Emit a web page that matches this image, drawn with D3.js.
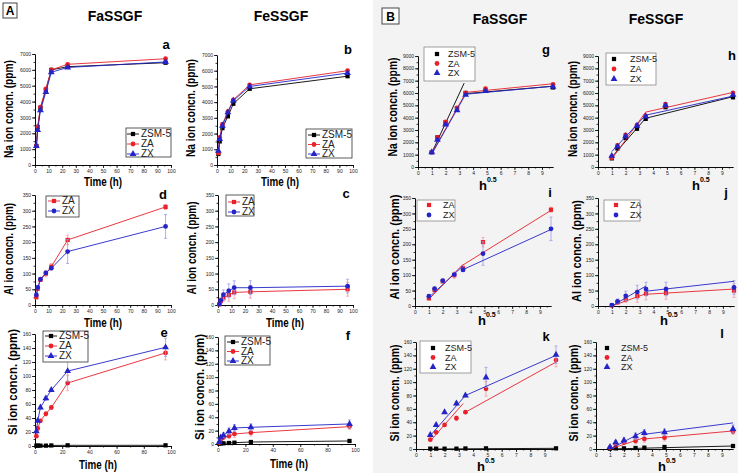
<!DOCTYPE html>
<html lang="en">
<head>
<meta charset="utf-8">
<script src="https://cdn.jsdelivr.net/npm/d3@7"></script>
<style>
  body { margin: 0; background: #fff; }
  text { font-family: "Liberation Sans", Arial, sans-serif; }
  .tick text { font-size: 5px; fill: #222; }
  .axis path, .axis line { stroke: #000; stroke-width: 0.8; }
</style>
</head>
<body>
<script>
// sampling times (h) and their square roots for the B panels
const hours = [1, 2, 4, 8, 12, 24, 96];
const rootHours = [1, 1.41, 2, 2.83, 3.46, 4.9, 9.8];

// Na release (ppm)
const naFaZSM5 = [1200, 2400, 3600, 4750, 6000, 6200, 6450];
const naFaZA   = [1200, 2400, 3650, 4800, 6000, 6350, 6700];
const naFaZX   = [1200, 2200, 3450, 4600, 5850, 6150, 6500];
const naFeZSM5 = [700, 1500, 2350, 3100, 3900, 4850, 5650];
const naFeZA   = [750, 1750, 2600, 3400, 4150, 5100, 6000];
const naFeZX   = [900, 1650, 2500, 3350, 4100, 5000, 5850];

// Al release (ppm) with error bars
const alFaZA    = [25, 52, 80, 100, 122, 207, 312];
const alFaZX    = [32, 56, 82, 102, 117, 170, 250];
const alFaZAErr = [6, 5, 5, 10, 10, 15, 8];
const alFaZXErr = [5, 5, 5, 5, 5, 38, 38];
const alFeZA    = [2, 12, 22, 32, 40, 42, 50];
const alFeZX    = [3, 15, 33, 45, 55, 55, 60];
const alFeZAErr = [3, 6, 10, 20, 20, 20, 22];
const alFeZXErr = [3, 8, 15, 22, 22, 22, 22];

// Si release (ppm) with error bars
const siFaZSM5  = [0.5, 0.5, 0.5, 0.5, 0.8, 1, 1];
const siFaZA    = [14, 25, 36, 46, 55, 90, 133];
const siFaZX    = [21, 36, 55, 68, 80, 107, 141];
const siFaZAErr = [1, 2, 2, 3, 2, 11, 10];
const siFaZXErr = [2, 2, 2, 3, 2, 15, 13];
const siFeZSM5  = [0.5, 1, 1, 1.5, 2, 3, 4.5];
const siFeZA    = [2, 7, 10, 12, 15, 17, 26];
const siFeZX    = [3, 10, 13, 19, 24, 25, 30];
const siFeZAErr = [1, 2, 3, 4, 5, 5, 4];
const siFeZXErr = [1, 3, 4, 5, 5, 5, 6];

// two-stage linear fits vs h^0.5 : [x1, y1, x2, y2]
const naFaFitZSM5 = [[1, 1150, 3.35, 6800], [3.46, 5950, 9.8, 6550]];
const naFaFitZA   = [[1, 1100, 3.46, 6000], [3.46, 6050, 9.8, 6750]];
const naFaFitZX   = [[1, 1050, 3.46, 5900], [3.46, 5900, 9.8, 6550]];
const naFeFitZSM5 = [[1, 800, 3.46, 3950], [3.46, 3950, 9.8, 5700]];
const naFeFitZA   = [[1, 650, 3.46, 4450], [3.46, 4450, 9.8, 6050]];
const naFeFitZX   = [[1, 1250, 3.46, 4200], [3.46, 4200, 9.8, 5750]];
const alFaFitZA   = [[1, 22, 3.46, 135], [3.46, 133, 9.8, 310]];
const alFaFitZX   = [[1, 28, 3.46, 130], [3.46, 118, 9.8, 248]];
const alFeFitZA   = [[1, 0, 3.46, 40], [3.46, 38, 9.8, 55]];
const alFeFitZX   = [[1, 0, 3.46, 65], [3.46, 48, 9.8, 80]];
const siFaFitZSM5 = [[1, 0, 9.8, 1]];
const siFaFitZA   = [[1, 12, 3.3, 68], [3.46, 55, 9.8, 130]];
const siFaFitZX   = [[1, 20, 3.46, 80], [3.46, 80, 9.8, 140]];
const siFeFitZSM5 = [[1, 0, 9.8, 4.5]];
const siFeFitZA   = [[1, 0, 3.46, 17], [3.46, 15, 9.8, 27]];
const siFeFitZX   = [[1, 0, 3.46, 27], [3.46, 22, 9.8, 39]];

const RED = "#e8212b", BLUE = "#2424c8", BLACK = "#000";
const RED_ERR = "#f19aa0", BLUE_ERR = "#9c9ce6";

const svg = d3.select("body").append("svg")
  .attr("width", 738).attr("height", 473);

// light background of the B half
svg.append("rect").attr("x", 373).attr("y", 0).attr("width", 365).attr("height", 473)
  .attr("fill", "#f3f3f3");

// headers
function boxLabel(txt, x, y, w, h) {
  svg.append("rect").attr("x", x).attr("y", y).attr("width", w).attr("height", h)
    .attr("fill", "#fff").attr("stroke", "#444").attr("stroke-width", 1);
  svg.append("text").attr("x", x + w / 2).attr("y", y + h - 3.5)
    .attr("text-anchor", "middle").attr("font-size", 12).attr("font-weight", "bold").text(txt);
}
boxLabel("A", 3, 3, 14, 15);
boxLabel("B", 382, 8, 17, 16);
[["FaSSGF", 115, 21], ["FeSSGF", 281, 21], ["FaSSGF", 500, 24], ["FeSSGF", 656, 24]].forEach(t => {
  svg.append("text").attr("x", t[1]).attr("y", t[2]).attr("text-anchor", "middle")
    .attr("font-size", 14).attr("font-weight", "bold").text(t[0]);
});

const shapes = {
  square: d3.symbol().type(d3.symbolSquare).size(18),
  circle: d3.symbol().type(d3.symbolCircle).size(18),
  triangle: d3.symbol().type(d3.symbolTriangle).size(20)
};

function panel(p) {
  const xs = p.root ? rootHours : hours;
  const x = d3.scaleLinear().domain([0, p.xMax]).range(p.xr);
  const y = d3.scaleLinear().domain([0, p.yMax]).range(p.yr);
  const g = svg.append("g");

  // minor ticks
  g.append("g").attr("class", "axis").attr("transform", `translate(0,${p.yr[0]})`)
    .call(d3.axisBottom(x).tickValues(d3.range(0, p.xMax + 1e-9, p.xMinor)).tickSize(1.5).tickFormat("").tickSizeOuter(0));
  g.append("g").attr("class", "axis").attr("transform", `translate(${p.xr[0]},0)`)
    .call(d3.axisLeft(y).tickValues(d3.range(0, p.yMax + 1e-9, p.yStep / 2)).tickSize(1.5).tickFormat("").tickSizeOuter(0));
  // major ticks
  g.append("g").attr("class", "axis").attr("transform", `translate(0,${p.yr[0]})`)
    .call(d3.axisBottom(x).tickValues(d3.range(0, p.xTickMax + 1e-9, p.xStep)).tickSize(3).tickPadding(1).tickFormat(d3.format("d")).tickSizeOuter(0));
  g.append("g").attr("class", "axis").attr("transform", `translate(${p.xr[0]},0)`)
    .call(d3.axisLeft(y).tickValues(d3.range(0, p.yMax + 1e-9, p.yStep)).tickSize(3).tickPadding(1).tickFormat(d3.format("d")).tickSizeOuter(0));

  // axis titles
  g.append("text").attr("transform", `translate(${p.yl[0]},${p.yl[1]}) rotate(-90)`)
    .attr("text-anchor", "middle").attr("font-size", 12.5).attr("font-weight", "bold")
    .attr("textLength", p.yl[2]).attr("lengthAdjust", "spacingAndGlyphs").text(p.ylab);
  if (p.root) {
    const t = g.append("text").attr("x", p.xl[0]).attr("y", p.xl[1])
      .attr("font-size", 13).attr("font-weight", "bold");
    t.append("tspan").text("h");
    t.append("tspan").attr("font-size", 7).attr("dy", -8).text("0.5");
  } else {
    g.append("text").attr("x", p.xl[0]).attr("y", p.xl[1]).attr("text-anchor", "middle")
      .attr("font-size", 12.5).attr("font-weight", "bold")
      .attr("textLength", 38).attr("lengthAdjust", "spacingAndGlyphs").text("Time (h)");
  }
  g.append("text").attr("x", p.letter[0]).attr("y", p.letter[1]).attr("text-anchor", "middle")
    .attr("font-size", 13).attr("font-weight", "bold").text(p.letter[2]);

  p.series.forEach(s => {
    const pts = xs.map((v, i) => ({ x: v, y: s.vals[i], e: s.err ? s.err[i] : 0 }));
    if (s.err) {
      const eg = g.append("g").attr("stroke", s.errColor).attr("stroke-width", 0.8);
      pts.forEach(d => {
        eg.append("line").attr("x1", x(d.x)).attr("x2", x(d.x))
          .attr("y1", y(d.y - d.e)).attr("y2", y(d.y + d.e));
        [d.y - d.e, d.y + d.e].forEach(v => eg.append("line")
          .attr("x1", x(d.x) - 1.5).attr("x2", x(d.x) + 1.5).attr("y1", y(v)).attr("y2", y(v)));
      });
    }
    if (p.root) {
      s.fit.forEach(f => g.append("line")
        .attr("x1", x(f[0])).attr("y1", y(f[1])).attr("x2", x(f[2])).attr("y2", y(f[3]))
        .attr("stroke", s.color).attr("stroke-width", 0.9));
    } else {
      g.append("path").datum(pts)
        .attr("d", d3.line().x(d => x(d.x)).y(d => y(d.y)))
        .attr("fill", "none").attr("stroke", s.color).attr("stroke-width", 0.9);
    }
    g.selectAll(null).data(pts).enter().append("path")
      .attr("d", shapes[s.shape]())
      .attr("transform", d => `translate(${x(d.x)},${y(d.y)})`)
      .attr("fill", s.color);
  });

  // legend
  const L = p.legend;
  if (L.border) {
    g.append("rect").attr("x", L.box[0]).attr("y", L.box[1]).attr("width", L.box[2]).attr("height", L.box[3])
      .attr("fill", "#fff").attr("stroke", p.root ? "#888" : "#333").attr("stroke-width", 0.8);
  }
  p.series.forEach((s, i) => {
    const ry = L.rowY + i * L.gap;
    if (!p.root) {
      g.append("line").attr("x1", L.markX - 6).attr("x2", L.markX + 6).attr("y1", ry).attr("y2", ry)
        .attr("stroke", s.color).attr("stroke-width", 0.9);
    }
    g.append("path").attr("d", shapes[s.shape]()).attr("transform", `translate(${L.markX},${ry})`)
      .attr("fill", s.color);
    g.append("text").attr("x", L.textX).attr("y", ry + 3.2).attr("font-size", L.font || 10)
      .attr("fill", "#222").text(s.name);
  });
}

function ser(name, vals, color, shape, err, fit) {
  return { name, vals, color, shape, err, fit,
    errColor: color === RED ? RED_ERR : color === BLUE ? BLUE_ERR : "#888" };
}

// ---- A panels (vs time) ----
panel({ xr: [35, 171], yr: [165, 54], xMax: 100, xTickMax: 100, xStep: 10, xMinor: 5, yMax: 7000, yStep: 1000,
  ylab: "Na ion concn. (ppm)", yl: [13, 109, 98], xl: [103, 186], letter: [166, 49, "a"],
  legend: { border: true, box: [126, 128, 45, 29], rowY: 134, gap: 10, markX: 133, textX: 141 },
  series: [ser("ZSM-5", naFaZSM5, BLACK, "square"), ser("ZA", naFaZA, RED, "circle"), ser("ZX", naFaZX, BLUE, "triangle")] });
panel({ xr: [217, 353], yr: [165, 55], xMax: 100, xTickMax: 100, xStep: 10, xMinor: 5, yMax: 7000, yStep: 1000,
  ylab: "Na ion concn. (ppm)", yl: [195, 108, 98], xl: [280, 186], letter: [348, 54, "b"],
  legend: { border: true, box: [306, 129, 46, 29], rowY: 135, gap: 9.5, markX: 314, textX: 322 },
  series: [ser("ZSM-5", naFeZSM5, BLACK, "square"), ser("ZA", naFeZA, RED, "circle"), ser("ZX", naFeZX, BLUE, "triangle")] });
panel({ xr: [35, 171], yr: [305, 195], xMax: 100, xTickMax: 100, xStep: 10, xMinor: 5, yMax: 350, yStep: 50,
  ylab: "Al ion concn. (ppm)", yl: [13, 249, 92], xl: [103, 327], letter: [163, 199, "d"],
  legend: { border: true, box: [46, 196, 33, 21], rowY: 201, gap: 10, markX: 54, textX: 62 },
  series: [ser("ZA", alFaZA, RED, "square", alFaZAErr), ser("ZX", alFaZX, BLUE, "circle", alFaZXErr)] });
panel({ xr: [218, 353], yr: [305, 195], xMax: 100, xTickMax: 100, xStep: 10, xMinor: 5, yMax: 350, yStep: 50,
  ylab: "Al ion concn. (ppm)", yl: [196, 248, 93], xl: [285, 327], letter: [346, 198, "c"],
  legend: { border: true, box: [226, 195, 28, 21], rowY: 202, gap: 10, markX: 234, textX: 242 },
  series: [ser("ZA", alFeZA, RED, "square", alFeZAErr), ser("ZX", alFeZX, BLUE, "circle", alFeZXErr)] });
panel({ xr: [35, 171], yr: [446, 334], xMax: 100, xTickMax: 100, xStep: 20, xMinor: 10, yMax: 160, yStep: 20,
  ylab: "Si ion concn. (ppm)", yl: [17, 382, 106], xl: [98, 469], letter: [164, 337, "e"],
  legend: { border: true, box: [43, 331, 45, 31], rowY: 336, gap: 10, markX: 51, textX: 59 },
  series: [ser("ZSM-5", siFaZSM5, BLACK, "square"), ser("ZA", siFaZA, RED, "circle", siFaZAErr), ser("ZX", siFaZX, BLUE, "triangle", siFaZXErr)] });
panel({ xr: [218, 355], yr: [444, 337], xMax: 100, xTickMax: 100, xStep: 20, xMinor: 10, yMax: 160, yStep: 20,
  ylab: "Si ion concn. (ppm)", yl: [204, 387, 106], xl: [289, 468], letter: [348, 340, "f"],
  legend: { border: true, box: [225, 336, 45, 29], rowY: 342, gap: 9.5, markX: 233, textX: 241 },
  series: [ser("ZSM-5", siFeZSM5, BLACK, "square"), ser("ZA", siFeZA, RED, "circle", siFeZAErr), ser("ZX", siFeZX, BLUE, "triangle", siFeZXErr)] });

// ---- B panels (vs h^0.5) ----
panel({ root: true, xr: [418, 553], yr: [167, 56], xMax: 9.8, xTickMax: 9, xStep: 1, xMinor: 0.5, yMax: 9000, yStep: 1000,
  ylab: "Na ion concn. (ppm)", yl: [397, 107, 99], xl: [479, 190], letter: [546, 54, "g"],
  legend: { border: true, box: [424, 47, 51, 34], rowY: 54, gap: 9.5, markX: 437, textX: 448, font: 9 },
  series: [ser("ZSM-5", naFaZSM5, BLACK, "square", null, naFaFitZSM5), ser("ZA", naFaZA, RED, "circle", null, naFaFitZA), ser("ZX", naFaZX, BLUE, "triangle", null, naFaFitZX)] });
panel({ root: true, xr: [598, 733], yr: [167, 56], xMax: 9.8, xTickMax: 9, xStep: 1, xMinor: 0.5, yMax: 9000, yStep: 1000,
  ylab: "Na ion concn. (ppm)", yl: [577, 109, 96], xl: [692, 190], letter: [732, 60, "h"],
  legend: { border: true, box: [606, 53, 50, 32], rowY: 59, gap: 10, markX: 614, textX: 630, font: 9 },
  series: [ser("ZSM-5", naFeZSM5, BLACK, "square", null, naFeFitZSM5), ser("ZA", naFeZA, RED, "circle", null, naFeFitZA), ser("ZX", naFeZX, BLUE, "triangle", null, naFeFitZX)] });
panel({ root: true, xr: [415, 551], yr: [306, 198], xMax: 9.8, xTickMax: 9, xStep: 1, xMinor: 0.5, yMax: 350, yStep: 50,
  ylab: "Al ion concn. (ppm)", yl: [399, 247, 105], xl: [478, 325], letter: [550, 197, "i"],
  legend: { border: true, box: [417, 200, 38, 21], rowY: 205, gap: 10, markX: 429, textX: 443, font: 9 },
  series: [ser("ZA", alFaZA, RED, "square", alFaZAErr, alFaFitZA), ser("ZX", alFaZX, BLUE, "circle", alFaZXErr, alFaFitZX)] });
panel({ root: true, xr: [598, 734], yr: [306, 198], xMax: 9.8, xTickMax: 9, xStep: 1, xMinor: 0.5, yMax: 350, yStep: 50,
  ylab: "Al ion concn. (ppm)", yl: [581, 251, 102], xl: [660, 325], letter: [726, 197, "j"],
  legend: { border: true, box: [604, 200, 36, 21], rowY: 205, gap: 10, markX: 616, textX: 630, font: 9 },
  series: [ser("ZA", alFeZA, RED, "square", alFeZAErr, alFeFitZA), ser("ZX", alFeZX, BLUE, "circle", alFeZXErr, alFeFitZX)] });
panel({ root: true, xr: [416, 556], yr: [449, 342], xMax: 9.8, xTickMax: 9, xStep: 1, xMinor: 0.5, yMax: 160, yStep: 20,
  ylab: "Si ion concn. (ppm)", yl: [399, 393, 97], xl: [477, 471], letter: [546, 341, "k"],
  legend: { border: true, box: [420, 341, 51, 32], rowY: 348, gap: 9.5, markX: 433, textX: 445, font: 9 },
  series: [ser("ZSM-5", siFaZSM5, BLACK, "square", null, siFaFitZSM5), ser("ZA", siFaZA, RED, "circle", siFaZAErr, siFaFitZA), ser("ZX", siFaZX, BLUE, "triangle", siFaZXErr, siFaFitZX)] });
panel({ root: true, xr: [596, 733], yr: [449, 342], xMax: 9.8, xTickMax: 9, xStep: 1, xMinor: 0.5, yMax: 160, yStep: 20,
  ylab: "Si ion concn. (ppm)", yl: [578, 393, 97], xl: [658, 471], letter: [722, 338, "l"],
  legend: { border: false, box: [600, 341, 46, 32], rowY: 348, gap: 9.5, markX: 607, textX: 621, font: 9 },
  series: [ser("ZSM-5", siFeZSM5, BLACK, "square", null, siFeFitZSM5), ser("ZA", siFeZA, RED, "circle", siFeZAErr, siFeFitZA), ser("ZX", siFeZX, BLUE, "triangle", siFeZXErr, siFeFitZX)] });
</script>
</body>
</html>
